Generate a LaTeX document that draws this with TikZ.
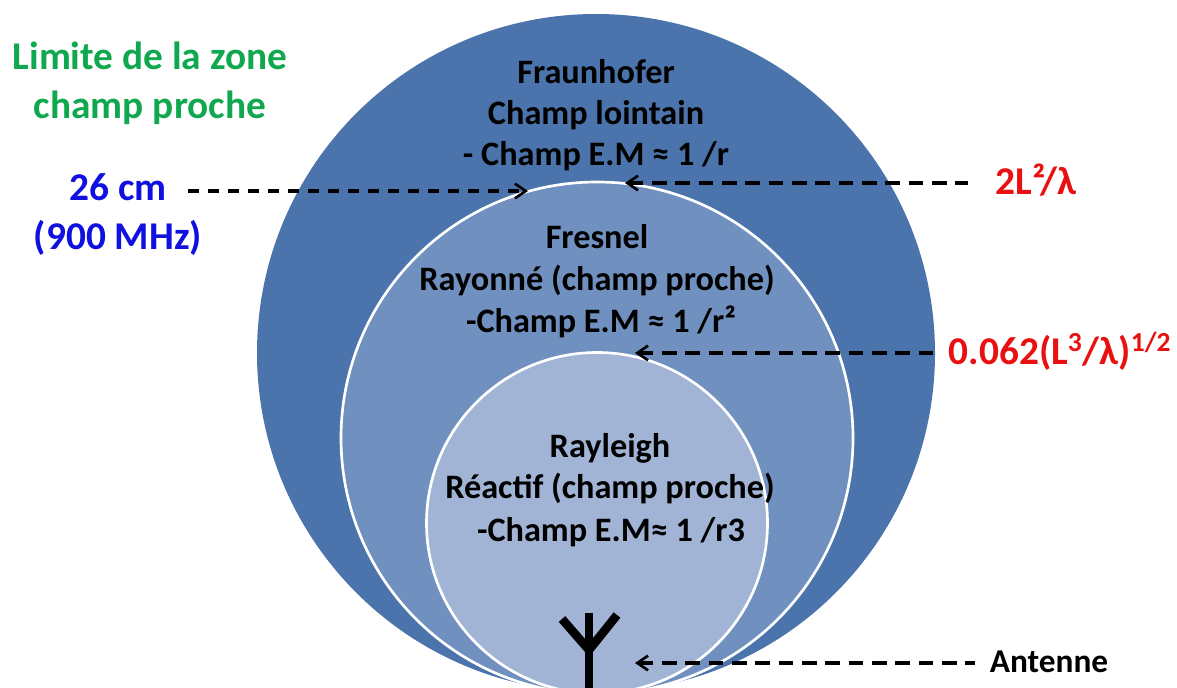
\documentclass[tikz,border=0pt]{standalone}
\usepackage{fontspec}
\setmainfont{Carlito}
\usetikzlibrary{arrows.meta}
\definecolor{ringA}{HTML}{4A74AB}
\definecolor{ringB}{HTML}{7090C0}
\definecolor{ringC}{HTML}{A1B4D5}
\definecolor{labgreen}{HTML}{0FA84F}
\definecolor{labblue}{HTML}{1010E0}
\definecolor{labred}{HTML}{E81010}
\tikzset{
  x=0.75pt,y=-0.75pt,
  zone/.style={font=\fontsize{25.7}{30}\selectfont\bfseries,text=black,inner sep=0pt,anchor=base},
  side/.style={font=\fontsize{29.5}{34}\selectfont\bfseries,inner sep=0pt,anchor=base},
  dashline/.style={black,line width=2.6pt,dash pattern=on 11pt off 6.5pt,
    {Straight Barb[length=8pt,width=11pt,line width=2pt]}-{}},
  dashend/.style={black,line width=2.6pt,dash pattern=on 8pt off 7pt,
    {}-{Straight Barb[length=8pt,width=11pt,line width=2pt]}},
  ant/.style={black,line width=6.5pt},
}
\begin{document}
\begin{tikzpicture}
\useasboundingbox (0,0) rectangle (1177,688);
\begin{scope}
\clip (0,0) rectangle (1177,688);
\fill[ringA] (596,353) circle[radius=339*0.75pt];
\filldraw[fill=ringB,draw=white,line width=2pt] (597,438) circle[radius=256*0.75pt];
\filldraw[fill=ringC,draw=white,line width=2pt] (597,523) circle[radius=170.5*0.75pt];
\draw[ant] (589,688) -- (589,613);
\draw[ant,line join=miter] (562,619) -- (589,650) -- (617,615);
\end{scope}
\node[zone] (f1) at (596,84) {Fraunhofer};
\node[zone] (f2) at (596,125) {Champ lointain};
\node[zone] (f3) at (596,166) {- Champ E.M ≈ 1 /r};
\node[zone] (m1) at (597,248) {Fresnel};
\node[zone] (m2) at (597,290) {Rayonné (champ proche)};
\node[zone] (m3) at (601,332) {-Champ E.M ≈ 1 /r²};
\node[zone] (r1) at (610,457) {Rayleigh};
\node[zone] (r2) at (610,498) {Réactif (champ proche)};
\node[zone] (r3) at (611,541) {-Champ E.M≈ 1 /r3};
\node[side,text=labgreen] (g1) at (150,70) {Limite de la zone};
\node[side,text=labgreen] (g2) at (150,119) {champ proche};
\node[side,text=labblue] (b1) at (118,200) {26 cm};
\node[side,text=labblue] (b2) at (118,249) {(900 MHz)};
\node[side,text=labred] (a1) at (1036,195) {2L²/λ};
\node[side,text=labred] (a2) at (1060,364) {0.062(L\textsuperscript{3}/λ)\textsuperscript{1/2}};
\node[font=\fontsize{25}{29}\selectfont\bfseries,inner sep=0pt,anchor=base] (ant) at (1049,672) {Antenne};
\coordinate (p1) at (188,191);
\coordinate (p2) at (528,191);
\coordinate (p3) at (968,183);
\coordinate (p4) at (625,183);
\coordinate (p5) at (942,353);
\coordinate (p6) at (635,353);
\coordinate (p7) at (975,663);
\coordinate (p8) at (635,663);
\draw[dashend] (p1) -- (p2);
\draw[dashline] (p4) -- (p3);
\draw[dashline] (p6) -- (p5);
\draw[dashline] (p8) -- (p7);
\end{tikzpicture}
\end{document}
